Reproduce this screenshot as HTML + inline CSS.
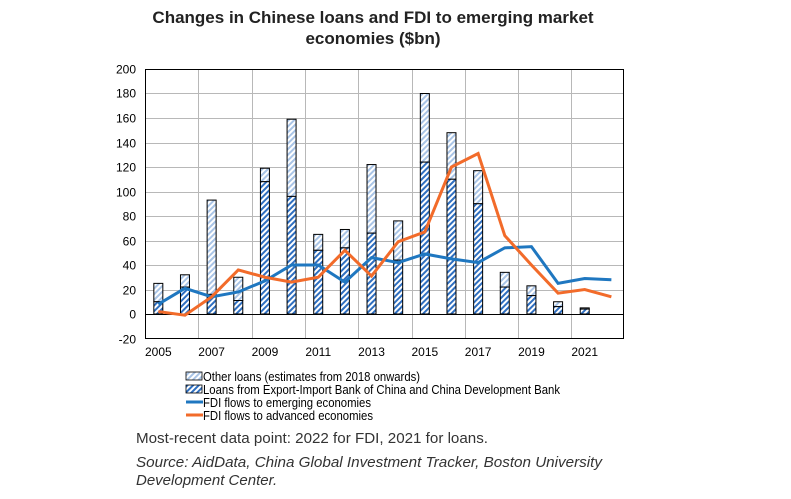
<!DOCTYPE html>
<html><head><meta charset="utf-8"><style>
body{margin:0;background:#fff;}
svg text{font-family:"Liberation Sans",Arial,sans-serif;}
</style></head><body>
<svg width="791" height="494" xmlns="http://www.w3.org/2000/svg">
<defs>
<pattern id="lt" patternUnits="userSpaceOnUse" width="4" height="4" patternTransform="rotate(45)">
<rect width="4" height="4" fill="#fff"/><rect width="2" height="4" fill="#a9c4e6"/></pattern>
<pattern id="dk" patternUnits="userSpaceOnUse" width="4" height="4" patternTransform="rotate(45)">
<rect width="4" height="4" fill="#fff"/><rect width="2" height="4" fill="#2f6fc0"/></pattern>
</defs>
<text x="373" y="23" text-anchor="middle" font-size="17" font-weight="bold" fill="#222">Changes in Chinese loans and FDI to emerging market</text>
<text x="373" y="44" text-anchor="middle" font-size="17" font-weight="bold" fill="#222">economies ($bn)</text>
<g id="grid" stroke="#b8b8b8" stroke-width="1"></g>
<g id="bars"></g>
<g id="lines"></g>
<rect x="145.5" y="69.5" width="478" height="269" fill="none" stroke="#000"/>
<g id="ylab" font-size="12" fill="#000" text-anchor="end"></g>
<g id="xlab" font-size="12" fill="#000" text-anchor="middle"></g>
<rect x="186" y="372" width="16" height="8" fill="url(#lt)" stroke="#000" stroke-width="0.8"/>
<rect x="186" y="385" width="16" height="8" fill="url(#dk)" stroke="#000" stroke-width="0.8"/>
<line x1="186" y1="402" x2="203" y2="402" stroke="#1f77c0" stroke-width="3"/>
<line x1="186" y1="415" x2="203" y2="415" stroke="#f26b2a" stroke-width="3"/>
<g font-size="12.5" fill="#000">
<text x="203" y="381" textLength="217" lengthAdjust="spacingAndGlyphs">Other loans (estimates from 2018 onwards)</text>
<text x="203" y="394" textLength="357" lengthAdjust="spacingAndGlyphs">Loans from Export-Import Bank of China and China Development Bank</text>
<text x="203" y="407" textLength="168" lengthAdjust="spacingAndGlyphs">FDI flows to emerging economies</text>
<text x="203" y="420" textLength="170" lengthAdjust="spacingAndGlyphs">FDI flows to advanced economies</text>
</g>
<text x="136" y="443" font-size="15" fill="#333" textLength="352" lengthAdjust="spacingAndGlyphs">Most-recent data point: 2022 for FDI, 2021 for loans.</text>
<text x="136" y="467" font-size="15" font-style="italic" fill="#333" textLength="466" lengthAdjust="spacingAndGlyphs">Source: AidData, China Global Investment Tracker, Boston University</text>
<text x="136" y="485" font-size="15" font-style="italic" fill="#333">Development Center.</text>
</svg>
<script>
const NS="http://www.w3.org/2000/svg";
const y0=314, k=1.225, L=145, w=26.65;
const Y=v=>y0-v*k, X=i=>L+w*(i+0.5);
function el(t,a,p){const e=document.createElementNS(NS,t);for(const q in a)e.setAttribute(q,a[q]);document.getElementById(p).appendChild(e);return e;}
for(let v=-20;v<=200;v+=20){const y=Math.round(Y(v))+0.5;
 if(v!==0&&v!==-20&&v!==200)el('line',{x1:L,x2:623,y1:y,y2:y},'grid');
 el('text',{x:136,y:y+4},'ylab').textContent=v;}
for(let i=2;i<18;i+=2){const x=Math.round(L+w*i)+0.5;el('line',{x1:x,x2:x,y1:69,y2:338},'grid');}
el('line',{x1:L,x2:623,y1:y0+0.5,y2:y0+0.5,stroke:'#000'},'grid');
for(let i=0;i<18;i+=2)el('text',{x:X(i),y:356},'xlab').textContent=2005+i;
const tot=[25,32,93,30,119,159,65,69,122,76,180,148,117,34,23,10,5];
const low=[10,22,16,11,108,96,52,54,66,44,124,110,90,22,15,6,4];
tot.forEach((t,i)=>{const x=X(i)-4.5;
 el('rect',{x:x,y:Y(t),width:9,height:Y(low[i])-Y(t),fill:'url(#lt)',stroke:'#000','stroke-width':1},'bars');
 el('rect',{x:x,y:Y(low[i]),width:9,height:y0-Y(low[i]),fill:'url(#dk)',stroke:'#000','stroke-width':1},'bars');});
const em=[8,21,14,18,27,40,40,26,46,42,49,45,42,54,55,25,29,28];
const ad=[2,-1,14,36,30,26,30,52,31,59,67,120,131,64,40,17,20,14];
el('polyline',{points:em.map((v,i)=>X(i)+','+Y(v)).join(' '),fill:'none',stroke:'#1f77c0','stroke-width':3},'lines');
el('polyline',{points:ad.map((v,i)=>X(i)+','+Y(v)).join(' '),fill:'none',stroke:'#f26b2a','stroke-width':3},'lines');
</script>
</body></html>
